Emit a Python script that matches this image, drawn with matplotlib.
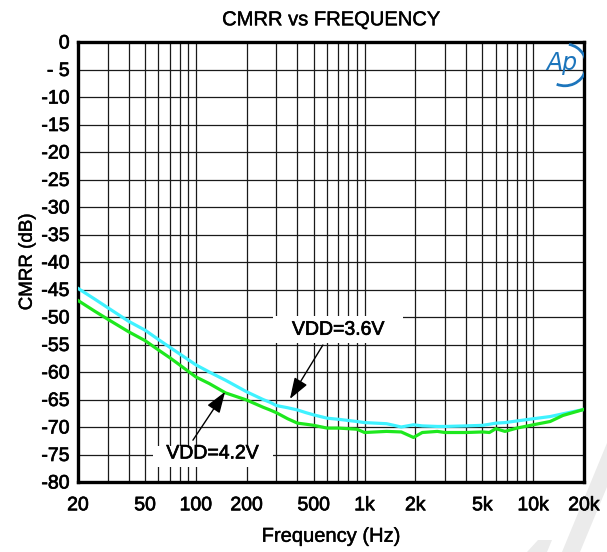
import numpy as np
import matplotlib
matplotlib.use("Agg")
import matplotlib.pyplot as plt
import matplotlib.patheffects as pe
from matplotlib.ticker import FixedLocator, NullFormatter
from matplotlib.patches import Polygon, Rectangle, Arc

plt.rcParams["font.family"] = ["Liberation Sans", "DejaVu Sans"]

# ── data ─────────────────────────────────────────────────────────────────────
FREQ = [20, 25, 30, 40, 50, 60, 70, 80, 100, 120, 150, 200, 250, 275, 300,
        350, 400, 450, 500, 600, 700, 900, 1000, 1350, 1650, 1950, 2200,
        2700, 3000, 4000, 5000, 5500, 6000, 6800, 8000, 10000, 12600, 15000,
        20000]
VDD36 = [-44.8, -46.7, -48.3, -50.8, -52.4, -54.1, -55.5, -56.7, -58.7,
         -60.0, -61.5, -63.6, -65.0, -65.5, -66.1, -66.5, -66.9, -67.4,
         -67.8, -68.4, -68.6, -69.0, -69.2, -69.4, -70.0, -69.6, -69.8,
         -69.9, -69.9, -69.8, -69.7, -69.5, -69.3, -69.2, -68.9, -68.5,
         -68.1, -67.6, -66.8]
VDD42 = [-47.0, -48.9, -50.4, -52.7, -54.3, -56.0, -57.4, -58.7, -60.9,
         -62.1, -63.8, -65.1, -66.4, -66.9, -67.4, -68.5, -69.3, -69.5,
         -69.7, -70.2, -70.2, -70.4, -71.0, -70.8, -70.9, -71.9, -71.0,
         -70.8, -71.0, -71.0, -70.9, -71.0, -70.3, -70.8, -70.2, -69.6,
         -69.0, -67.9, -66.8]

XTICKS = [20, 50, 100, 200, 500, 1000, 2000, 5000, 10000, 20000]
XLABELS = ["20", "50", "100", "200", "500", "1k", "2k", "5k", "10k", "20k"]
YTICKS = list(range(0, -85, -5))
YLABELS = ["0", "- 5"] + [str(v) for v in YTICKS[2:]]

CYAN = "#3ff2ff"
GREEN = "#1ee81e"
BOLDISH = [pe.withStroke(linewidth=0.5, foreground="black")]
SEMI = [pe.withStroke(linewidth=0.3, foreground="black")]

# ── figure ───────────────────────────────────────────────────────────────────
fig = plt.figure(figsize=(6.07, 5.52), dpi=100)

# faint watermark strokes in the corner (behind everything)
W, H = 607, 552
for pts in ([(562, 0), (580, 0), (607, 65), (607, 109)],
            [(527, 0), (547, 0), (552, 12), (538, 12)]):
    fig.patches.append(Polygon([(x / W, y / H) for x, y in pts], closed=True,
                               transform=fig.transFigure, fc="#ebebeb",
                               ec="none", zorder=-5))

ax = fig.add_axes([78 / W, 1 - 482 / H, 506 / W, 440 / H])
ax.patch.set_alpha(0)

ax.set_xscale("log")
ax.set_xlim(20, 20000)
ax.set_ylim(-80, 0)

# grid: every decade step + every 5 dB
minor = [m * 10 ** d for d in range(1, 5) for m in range(1, 10)]
minor = [f for f in minor if 20 <= f <= 20000]
ax.xaxis.set_major_locator(FixedLocator(XTICKS))
ax.xaxis.set_minor_locator(FixedLocator(minor))
ax.xaxis.set_minor_formatter(NullFormatter())
ax.set_xticklabels(XLABELS)
ax.set_yticks(YTICKS)
ax.set_yticklabels(YLABELS)
ax.grid(which="both", axis="x", color="#1a1a1a", lw=0.9)
ax.grid(which="major", axis="y", color="#1a1a1a", lw=0.9)
ax.tick_params(which="both", length=0, labelsize=14, pad=6)
ax.tick_params(axis="x", pad=11)
for lab in ax.get_xticklabels() + ax.get_yticklabels():
    lab.set_path_effects(BOLDISH)
for sp in ax.spines.values():
    sp.set_linewidth(2.4)
    sp.set_color("black")

ax.plot(FREQ, VDD36, color=CYAN, lw=2.3, zorder=3)
ax.plot(FREQ, VDD42, color=GREEN, lw=2.3, zorder=3)

# label boxes + arrows
ax.add_patch(Rectangle((286, -54.7), 1689 - 286, 4.9, fc="white", ec="none",
                       zorder=4))
ax.text(700, -52.4, "VDD=3.6V", fontsize=14, ha="center", va="center",
        zorder=5, path_effects=BOLDISH)
ax.add_patch(Rectangle((55.7, -77.3), 286 - 55.7, 3.8, fc="white", ec="none",
                       zorder=4))
ax.text(126, -74.9, "VDD=4.2V", fontsize=14, ha="center", va="center",
        zorder=5, path_effects=BOLDISH)

arrow = dict(arrowstyle="-|>,head_length=1.3,head_width=0.45",
             color="black", lw=1.0, shrinkA=0, shrinkB=0)
ax.annotate("", xy=(361, -64.9), xytext=(566, -55.1), arrowprops=arrow,
            zorder=6)
ax.annotate("", xy=(149, -63.6), xytext=(96, -72.4), arrowprops=arrow,
            zorder=6)

ax.set_xlabel("Frequency (Hz)", fontsize=14.5, labelpad=9, path_effects=SEMI)
ax.set_ylabel("CMRR (dB)", fontsize=13.5, labelpad=4, path_effects=SEMI)
ax.set_title("CMRR vs FREQUENCY", fontsize=14.5, pad=12, path_effects=SEMI)

# Ap logo
ax.text(0.957, 0.953, "Ap", transform=ax.transAxes, fontsize=17,
        style="italic", color="#1c75bc", ha="center", va="center",
        family="DejaVu Sans", zorder=6)
ax.add_patch(Arc((0.962, 0.948), 0.085, 0.095, theta1=-110, theta2=80,
                 transform=ax.transAxes, color="#1c75bc", lw=2.0, zorder=6))

fig.savefig("out.png", dpi=100)
